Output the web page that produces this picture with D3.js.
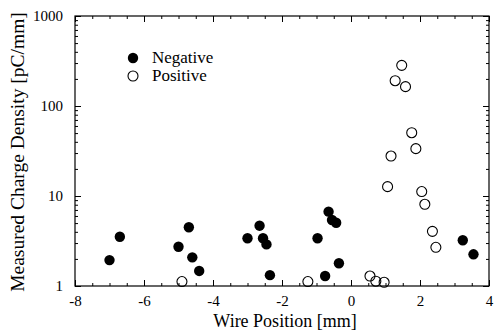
<!DOCTYPE html>
<html>
  <head>
    <meta charset="utf-8">
    <script src="https://cdn.jsdelivr.net/npm/d3@7/dist/d3.min.js"></script>
    <style>
      body { margin: 0; background: #fff; }
      text { font-family: "Liberation Serif", "Times New Roman", serif; fill: #000; }
    </style>
  </head>
  <body>
    <svg width="495" height="332"></svg>
    <script>

      // Data
      var negX = [-7.0, -6.7, -5.0, -4.7, -4.6, -4.4, -3.0, -2.65, -2.55, -2.45, -2.35, -0.97, -0.75, -0.65, -0.55, -0.43, -0.35, 3.24, 3.55];
      var negY = [1.94, 3.53, 2.73, 4.49, 2.08, 1.47, 3.39, 4.68, 3.39, 2.9, 1.32, 3.39, 1.29, 6.7, 5.41, 5.05, 1.79, 3.22, 2.25];
      var posX = [-4.9, -1.25, 0.55, 0.72, 0.96, 1.06, 1.16, 1.28, 1.47, 1.58, 1.76, 1.88, 2.05, 2.14, 2.36, 2.46];
      var posY = [1.12, 1.12, 1.29, 1.13, 1.1, 12.7, 27.8, 191, 283, 164, 50.5, 33.6, 11.2, 8.09, 4.05, 2.69];
      var xTicks = [-8, -6, -4, -2, 0, 2, 4];
      var yTicks = [1, 10, 100, 1000];
      var seriesNames = ["Negative", "Positive"];

      var svg = d3.select("svg");
      var padL = 75, padR = 489, padT = 16, padB = 286;

      var x = d3.scaleLinear().domain([-8, 4]).range([padL, padR]);
      var y = d3.scaleLog().domain([1, 1000]).range([padB, padT]);

      // minor tick values
      var xMinor = d3.range(-8, 4.01, 0.5).filter(function(v) { return xTicks.indexOf(v) < 0; });
      var yMinor = [];
      [1, 10, 100].forEach(function(d) {
        for (var k = 2; k <= 9; k++) yMinor.push(d * k);
      });

      // frame
      svg.append("rect")
        .attr("x", padL).attr("y", padT)
        .attr("width", padR - padL).attr("height", padB - padT)
        .attr("fill", "none").attr("stroke", "#000").attr("stroke-width", 1.2);

      // axes with inward ticks
      function noDomain(g, axis) {
        g.call(axis).call(function(s) { s.select(".domain").remove(); });
      }
      var plain = function(d) { return String(d); };

      svg.append("g").attr("transform", "translate(0," + padB + ")")
        .call(noDomain, d3.axisBottom(x).tickValues(xTicks).tickSizeInner(-6).tickSizeOuter(0).tickPadding(9).tickFormat(plain));
      svg.append("g").attr("transform", "translate(0," + padB + ")")
        .call(noDomain, d3.axisBottom(x).tickValues(xMinor).tickSizeInner(-3).tickSizeOuter(0).tickFormat(""));
      svg.append("g").attr("transform", "translate(0," + padT + ")")
        .call(noDomain, d3.axisTop(x).tickValues(xTicks).tickSizeInner(-6).tickSizeOuter(0).tickFormat(""));
      svg.append("g").attr("transform", "translate(0," + padT + ")")
        .call(noDomain, d3.axisTop(x).tickValues(xMinor).tickSizeInner(-3).tickSizeOuter(0).tickFormat(""));

      svg.append("g").attr("transform", "translate(" + padL + ",0)")
        .call(noDomain, d3.axisLeft(y).tickValues(yTicks).tickSizeInner(-6).tickSizeOuter(0).tickPadding(12).tickFormat(plain));
      svg.append("g").attr("transform", "translate(" + padL + ",0)")
        .call(noDomain, d3.axisLeft(y).tickValues(yMinor).tickSizeInner(-3).tickSizeOuter(0).tickFormat(""));
      svg.append("g").attr("transform", "translate(" + padR + ",0)")
        .call(noDomain, d3.axisRight(y).tickValues(yTicks).tickSizeInner(-6).tickSizeOuter(0).tickFormat(""));
      svg.append("g").attr("transform", "translate(" + padR + ",0)")
        .call(noDomain, d3.axisRight(y).tickValues(yMinor).tickSizeInner(-3).tickSizeOuter(0).tickFormat(""));

      svg.selectAll(".tick line").attr("stroke", "#000");
      svg.selectAll(".tick text")
        .style("font-family", "'Liberation Serif', serif")
        .style("font-size", "15px")
        .attr("fill", "#000");

      // axis titles
      svg.append("text")
        .attr("x", (padL + padR) / 2 + 3)
        .attr("y", 327)
        .attr("text-anchor", "middle")
        .style("font-size", "18px")
        .text("Wire Position [mm]");

      svg.append("text")
        .attr("transform", "translate(24," + ((padT + padB) / 2 + 1) + ") rotate(-90)")
        .attr("text-anchor", "middle")
        .style("font-size", "19.5px")
        .text("Measured Charge Density [pC/mm]");

      // points
      var negData = negX.map(function(v, i) { return [v, negY[i]]; });
      var posData = posX.map(function(v, i) { return [v, posY[i]]; });

      svg.selectAll(".neg")
        .data(negData)
        .enter()
        .append("circle")
        .attr("class", "neg")
        .attr("cx", function(d) { return x(d[0]); })
        .attr("cy", function(d) { return y(d[1]); })
        .attr("r", 5.2)
        .attr("fill", "#000");

      svg.selectAll(".pos")
        .data(posData)
        .enter()
        .append("circle")
        .attr("class", "pos")
        .attr("cx", function(d) { return x(d[0]); })
        .attr("cy", function(d) { return y(d[1]); })
        .attr("r", 5)
        .attr("fill", "none")
        .attr("stroke", "#000")
        .attr("stroke-width", 1.1);

      // legend
      var legend = svg.append("g");
      seriesNames.forEach(function(name, i) {
        var ly = 58 + i * 18;
        legend.append("circle")
          .attr("cx", 133).attr("cy", ly)
          .attr("r", i == 0 ? 5.2 : 5)
          .attr("fill", i == 0 ? "#000" : "none")
          .attr("stroke", "#000")
          .attr("stroke-width", i == 0 ? 0 : 1.1);
        legend.append("text")
          .attr("x", 152).attr("y", ly + 5)
          .style("font-size", "17px")
          .text(name);
      });

    </script>
  </body>
</html>
